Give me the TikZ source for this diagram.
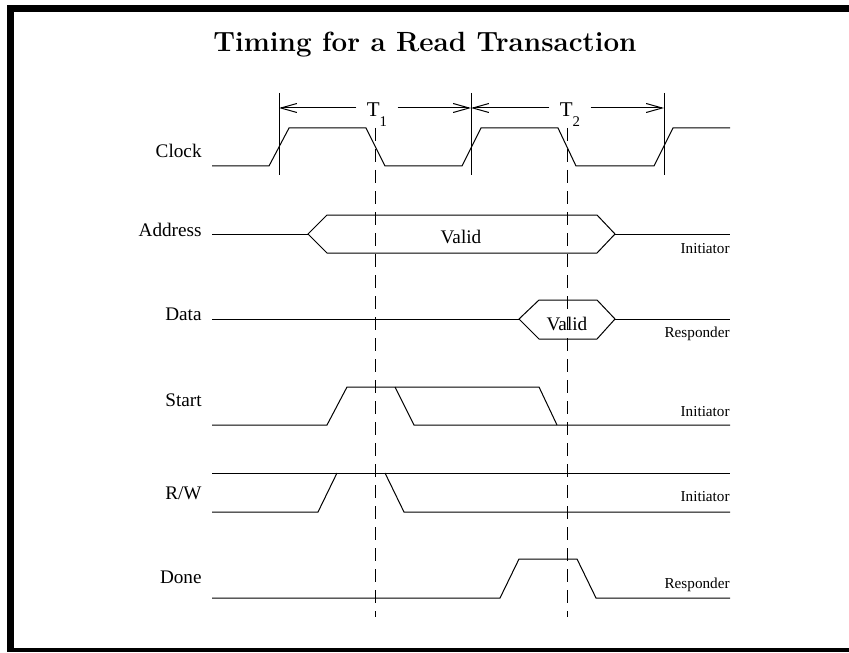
\documentclass[tikz,border=0pt]{standalone}
\usepackage{fontspec}
\newfontfamily\timesfont{Liberation Serif}
\usetikzlibrary{arrows.meta}

\tikzset{
  signal/.style={line width=0.5pt},
  guide/.style={line width=0.5pt, dash pattern=on 6.5pt off 4pt},
  dimline/.style={line width=0.5pt, -{Straight Barb[length=8pt,width=4.5pt]}},
  siglabel/.style={anchor=base east, inner sep=0pt, font=\timesfont\fontsize{9.6}{11}\selectfont},
  sidelabel/.style={anchor=base east, inner sep=0pt, font=\timesfont\fontsize{7.6}{9}\selectfont},
  valuelabel/.style={anchor=base, inner sep=0pt, font=\timesfont\fontsize{9.6}{11}\selectfont},
  periodlabel/.style={inner xsep=5pt, inner ysep=0pt, font=\timesfont\fontsize{10.5}{12}\selectfont},
}

\begin{document}
\begin{tikzpicture}[x=0.5pt,y=-0.5pt]
    \useasboundingbox (0,0) rectangle (849,652);
    % Frame
    \fill (7,5) rectangle (849,12);
    \fill (7,5) rectangle (14,652);
    \fill (7,648) rectangle (849,652);

    % Title
    \node[anchor=base, inner sep=0pt, font=\fontsize{13.9}{16}\selectfont\bfseries] (title) at (425,52) {Timing for a Read Transaction};

    % Signal names
    \node[siglabel] (clk) at (202,158) {Clock};
    \node[siglabel] (addr) at (202,236.5) {Address};
    \node[siglabel] (data) at (202,320) {Data};
    \node[siglabel] (start) at (202,406.5) {Start};
    \node[siglabel] (rw) at (202,499) {R/W};
    \node[siglabel] (done) at (202,583) {Done};

    % Who drives the line
    \node[sidelabel] (addrby) at (730,253) {Initiator};
    \node[sidelabel] (databy) at (730,337) {Responder};
    \node[sidelabel] (startby) at (730,416.5) {Initiator};
    \node[sidelabel] (rwby) at (730,501.5) {Initiator};
    \node[sidelabel] (doneby) at (730,588) {Responder};

    % Clock
    \draw[signal] (212,166) -- (269,166) -- (289,128) -- (366,128) -- (385,166) -- (462,166)
        -- (481,128) -- (558,128) -- (576,166) -- (654,166) -- (673,128) -- (730,128);
    \coordinate (edge0) at (279,93);
    \coordinate (edge1) at (471,93);
    \coordinate (edge2) at (664,93);
    \foreach \e in {edge0,edge1,edge2}
        \draw[signal] (\e) -- ++(0,82);

    % Cycle times
    \coordinate (a0) at (279,108);
    \coordinate (a1) at (471,108);
    \coordinate (a2) at (664,108);
    \node[periodlabel] (t1) at (377,110) {T\smash{\raisebox{-5pt}{\fontsize{7.4}{8}\selectfont 1}}};
    \node[periodlabel] (t2) at (570,110) {T\smash{\raisebox{-5pt}{\fontsize{7.4}{8}\selectfont 2}}};
    \draw[dimline] (t1.west |- a0) -- (a0);
    \draw[dimline] (t1.east |- a0) -- (a1);
    \draw[dimline] (t2.west |- a1) -- (a1);
    \draw[dimline] (t2.east |- a2) -- (a2);

    % Sampling instants
    \coordinate (s1) at (375.5,128);
    \coordinate (s2) at (567,128);
    \draw[guide] (s1) -- ++(0,489);
    \draw[guide] (s2) -- ++(0,489);

    % Address
    \draw[signal] (212,234) -- (308,234);
    \draw[signal] (308,234) -- (327,215) -- (597,215) -- (615,234) -- (597,253) -- (327,253) -- cycle;
    \draw[signal] (615,234) -- (730,234);
    \node[valuelabel] (addrval) at (461,243) {Valid};

    % Data
    \draw[signal] (212,319) -- (519,319);
    \draw[signal] (519,319) -- (539,300) -- (597,300) -- (615,319) -- (597,339) -- (539,339) -- cycle;
    \draw[signal] (615,319) -- (730,319);
    \node[valuelabel] (dataval) at (567,330) {Valid};

    % Start
    \draw[signal] (212,425) -- (327,425) -- (347,387) -- (539,387) -- (557,425);
    \draw[signal] (395,387) -- (414,425) -- (730,425);

    % R/W
    \draw[signal] (212,473) -- (730,473);
    \draw[signal] (212,512) -- (318,512) -- (337,473);
    \draw[signal] (385,473) -- (404,512) -- (730,512);

    % Done
    \draw[signal] (212,598) -- (500,598) -- (519,559) -- (577,559) -- (596,598) -- (730,598);
\end{tikzpicture}
\end{document}
